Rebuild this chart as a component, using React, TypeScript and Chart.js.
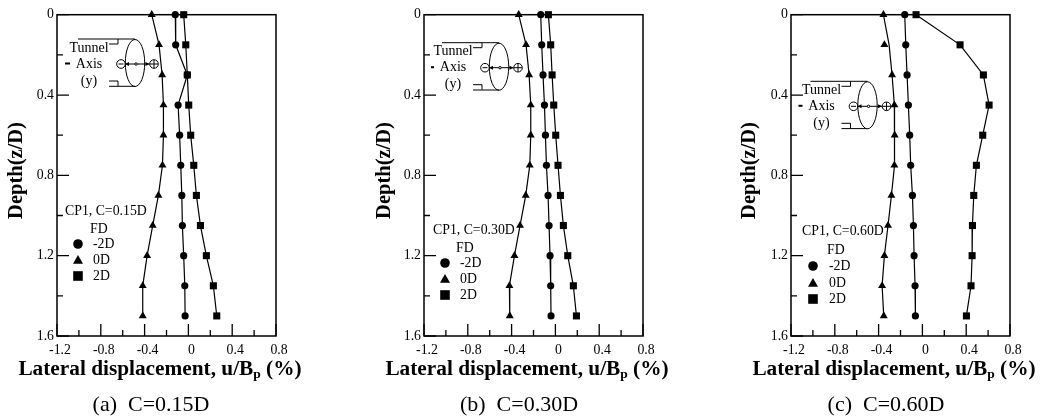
import React, { useEffect, useRef } from "react";
import { Chart, registerables } from "chart.js";

Chart.register(...registerables);

const depths = [0, 0.15, 0.3, 0.45, 0.6, 0.75, 0.9, 1.05, 1.2, 1.35, 1.5];
const xTickLabels = ["-1.2", "-0.8", "-0.4", "0", "0.4", "0.8"];
const yTickLabels = ["0", "0.4", "0.8", "1.2", "1.6"];

const a_m2D = [-0.12, -0.116, -0.01, -0.094, -0.08, -0.07, -0.06, -0.055, -0.043, -0.033, -0.03];
const a_0D = [-0.335, -0.268, -0.24, -0.228, -0.228, -0.237, -0.274, -0.326, -0.377, -0.417, -0.417];
const a_2D = [-0.043, -0.024, -0.01, 0.003, 0.021, 0.049, 0.073, 0.11, 0.164, 0.228, 0.259];

const b_m2D = [-0.134, -0.125, -0.113, -0.1, -0.091, -0.082, -0.067, -0.058, -0.049, -0.043, -0.04];
const b_0D = [-0.335, -0.268, -0.24, -0.225, -0.225, -0.234, -0.271, -0.323, -0.374, -0.42, -0.417];
const b_2D = [-0.064, -0.043, -0.03, -0.015, 0.003, 0.024, 0.046, 0.073, 0.113, 0.164, 0.192];

const c_m2D = [-0.161, -0.152, -0.14, -0.128, -0.116, -0.107, -0.091, -0.082, -0.076, -0.067, -0.064];
const c_0D = [-0.356, -0.304, -0.277, -0.256, -0.253, -0.256, -0.283, -0.314, -0.347, -0.368, -0.353];
const c_0D_offLine = [-0.347];
const c_2D = [-0.058, 0.344, 0.557, 0.609, 0.551, 0.493, 0.469, 0.457, 0.454, 0.444, 0.402];

type Panel = {
  left: number; width: number; axisLeft: number; axisRight: number; yTitleX: number;
  caption: string; captionX: number; xTitleX: number; cp: string;
  cpX: number; cpY: number; fdX: number; fdY: number; markX: number; textX: number; rowY: number[];
  diaDx: number; diaDy: number; dashW: number;
  m2: number[]; z0: number[]; p2: number[]; offLine?: number[]; hideTri?: number;
};

const panels: Panel[] = [
  { left: 0, width: 346, axisLeft: 57, axisRight: 276, yTitleX: 17, caption: "(a)  C=0.15D", captionX: 151, xTitleX: 160,
    cp: "CP1, C=0.15D", cpX: 65, cpY: 211, fdX: 90, fdY: 229, markX: 78, textX: 93, rowY: [244, 260, 276],
    diaDx: 0, diaDy: 0, dashW: 5, m2: a_m2D, z0: a_0D, p2: a_2D },
  { left: 346, width: 347, axisLeft: 78, axisRight: 297, yTitleX: 39, caption: "(b)  C=0.30D", captionX: 173, xTitleX: 181,
    cp: "CP1, C=0.30D", cpX: 87, cpY: 230, fdX: 110, fdY: 248, markX: 99, textX: 114, rowY: [263, 279, 295],
    diaDx: 364, diaDy: 3.7, dashW: 3, m2: b_m2D, z0: b_0D, p2: b_2D },
  { left: 693, width: 347, axisLeft: 98, axisRight: 317, yTitleX: 57, caption: "(c)  C=0.60D", captionX: 193, xTitleX: 201,
    cp: "CP1, C=0.60D", cpX: 109, cpY: 231, fdX: 134, fdY: 250, markX: 120, textX: 136, rowY: [266, 283, 299],
    diaDx: 732.5, diaDy: 42.3, dashW: 4, m2: c_m2D, z0: c_0D, p2: c_2D, offLine: c_0D_offLine, hideTri: 1 },
];

const SERIF = '"Liberation Serif", serif';

function marker(ctx: CanvasRenderingContext2D, kind: number, x: number, y: number) {
  ctx.beginPath();
  if (kind === 0) ctx.arc(x, y, 4.8, 0, Math.PI * 2);
  else if (kind === 1) { ctx.moveTo(x, y - 5); ctx.lineTo(x + 5, y + 3.8); ctx.lineTo(x - 5, y + 3.8); ctx.closePath(); }
  else ctx.rect(x - 4.8, y - 4.8, 9.6, 9.6);
  ctx.fill();
}

function makePlugin(p: Panel) {
  return {
    id: "paperFrame",
    afterDraw(chart: any) {
      const ctx: CanvasRenderingContext2D = chart.ctx;
      const { left, right, top, bottom } = chart.chartArea;
      const xs = chart.scales.x;
      const ys = chart.scales.y;
      ctx.save();
      ctx.strokeStyle = "#000";
      ctx.fillStyle = "#000";
      // frame
      ctx.lineWidth = 1.5;
      ctx.strokeRect(left, top, right - left, bottom - top);
      // inward ticks
      ctx.lineWidth = 1.3;
      ctx.beginPath();
      xs.ticks.forEach((t: any) => {
        const major = Math.round(t.value * 10) % 4 === 0;
        const px = xs.getPixelForValue(t.value);
        ctx.moveTo(px, bottom);
        ctx.lineTo(px, bottom - (major ? 12 : 6));
      });
      ys.ticks.forEach((t: any) => {
        const major = Math.round(t.value * 10) % 4 === 0;
        const py = ys.getPixelForValue(t.value);
        ctx.moveTo(left, py);
        ctx.lineTo(left + (major ? 12 : 6), py);
      });
      ctx.stroke();

      // y axis title
      ctx.save();
      ctx.translate(p.yTitleX, 170.5);
      ctx.rotate(-Math.PI / 2);
      ctx.font = `bold 20.5px ${SERIF}`;
      ctx.textAlign = "center";
      ctx.textBaseline = "middle";
      ctx.fillText("Depth(z/D)", 0, 0);
      ctx.restore();

      // x axis title with a subscript
      ctx.textBaseline = "alphabetic";
      const big = `bold 21.3px ${SERIF}`;
      const sub = `bold 13.5px ${SERIF}`;
      const s1 = "Lateral displacement, u/B";
      const s2 = "p";
      const s3 = " (%)";
      ctx.font = big;
      const w1 = ctx.measureText(s1).width;
      const w3 = ctx.measureText(s3).width;
      ctx.font = sub;
      const w2 = ctx.measureText(s2).width;
      let tx = p.xTitleX - (w1 + w2 + w3) / 2;
      ctx.textAlign = "left";
      ctx.font = big;
      ctx.fillText(s1, tx, 375);
      tx += w1;
      ctx.font = sub;
      ctx.fillText(s2, tx, 378);
      tx += w2;
      ctx.font = big;
      ctx.fillText(s3, tx, 375);

      // caption
      ctx.font = `22px ${SERIF}`;
      ctx.textAlign = "center";
      ctx.fillText(p.caption, p.captionX, 411);

      // legend
      ctx.textBaseline = "middle";
      ctx.textAlign = "left";
      ctx.font = `13.8px ${SERIF}`;
      ctx.fillText(p.cp, p.cpX, p.cpY);
      ctx.fillText("FD", p.fdX, p.fdY);
      ["-2D", "0D", "2D"].forEach((name, i) => {
        marker(ctx, i, p.markX, p.rowY[i]);
        ctx.fillText(name, p.textX, p.rowY[i]);
      });

      // tunnel diagram
      const ox = p.diaDx - p.left;
      const oy = p.diaDy;
      const X = (v: number) => v + ox;
      const Y = (v: number) => v + oy;
      ctx.textAlign = "center";
      ctx.font = `14px ${SERIF}`;
      ctx.fillText("Tunnel", X(89), Y(48));
      ctx.fillText("Axis", X(89), Y(64));
      ctx.fillText("(y)", X(89), Y(81));
      ctx.lineWidth = 1;
      ctx.beginPath();
      ctx.ellipse(X(135), Y(63), 9.7, 23.5, 0, 0, Math.PI * 2);
      ctx.stroke();
      ctx.beginPath();
      ctx.moveTo(X(78), Y(39)); ctx.lineTo(X(135), Y(39));
      ctx.moveTo(X(109), Y(86.3)); ctx.lineTo(X(135), Y(86.3));
      ctx.moveTo(X(109), Y(44)); ctx.lineTo(X(118), Y(44)); ctx.lineTo(X(118), Y(39));
      ctx.moveTo(X(109), Y(81)); ctx.lineTo(X(118), Y(81)); ctx.lineTo(X(118), Y(86));
      ctx.moveTo(X(125), Y(64)); ctx.lineTo(X(149.5), Y(64));
      ctx.stroke();
      for (const cx of [121, 154]) {
        ctx.beginPath();
        ctx.arc(X(cx), Y(64), 4.3, 0, Math.PI * 2);
        ctx.stroke();
      }
      ctx.beginPath();
      ctx.moveTo(X(118.5), Y(64)); ctx.lineTo(X(123.5), Y(64));
      ctx.moveTo(X(154), Y(60)); ctx.lineTo(X(154), Y(68));
      ctx.moveTo(X(150), Y(64)); ctx.lineTo(X(158), Y(64));
      ctx.stroke();
      ctx.beginPath();
      ctx.moveTo(X(125), Y(64)); ctx.lineTo(X(129), Y(62)); ctx.lineTo(X(129), Y(66)); ctx.closePath();
      ctx.moveTo(X(149.5), Y(64)); ctx.lineTo(X(145.5), Y(62)); ctx.lineTo(X(145.5), Y(66)); ctx.closePath();
      ctx.fill();
      ctx.beginPath();
      ctx.arc(X(136), Y(64), 1.2, 0, Math.PI * 2);
      ctx.fillStyle = "#fff";
      ctx.fill();
      ctx.stroke();
      ctx.fillStyle = "#000";
      ctx.fillRect(X(70 - p.dashW), Y(62.5), p.dashW, 2);
      ctx.restore();
    },
  };
}

function series(label: string, xs: number[], pointStyle: string, radius: number, hideIndex?: number) {
  return {
    label,
    data: xs.map((x, i) => ({ x, y: depths[i] })),
    showLine: true,
    borderColor: "#000",
    backgroundColor: "#000",
    borderWidth: 1.2,
    pointStyle,
    pointRadius: xs.map((_, i) => (i === hideIndex ? 0 : radius)),
    pointBorderWidth: 0,
    tension: 0,
    clip: false,
  };
}

function Panel({ p }: { p: Panel }) {
  const ref = useRef<HTMLCanvasElement>(null);
  useEffect(() => {
    const pad = p.yTitleX - 12;
    const datasets: any[] = [
      series("-2D", p.m2, "circle", 3.6),
      series("0D", p.z0, "triangle", 4.6, p.hideTri),
      series("2D", p.p2, "rect", 5),
    ];
    if (p.offLine) {
      datasets.push({
        label: "0D ",
        data: p.offLine.map((x) => ({ x, y: depths[p.hideTri as number] })),
        showLine: false,
        backgroundColor: "#000",
        pointStyle: "triangle",
        pointRadius: 4.6,
        pointBorderWidth: 0,
      });
    }
    const chart = new Chart(ref.current as HTMLCanvasElement, {
      type: "scatter",
      data: { datasets },
      plugins: [makePlugin(p)],
      options: {
        animation: false,
        responsive: false,
        layout: { padding: { left: pad, right: p.width - p.axisRight, top: 14.7, bottom: 0 } },
        plugins: { legend: { display: false }, tooltip: { enabled: false } },
        scales: {
          x: {
            type: "linear",
            min: -1.2,
            max: 0.8,
            afterFit: (s: any) => { s.height = 81; },
            grid: { display: false, drawTicks: false },
            border: { display: false },
            ticks: {
              stepSize: 0.2,
              autoSkip: false,
              maxRotation: 0,
              padding: 6,
              labelOffset: 3,
              color: "#000",
              font: { family: SERIF, size: 13.8 },
              callback: (v: any) => xTickLabels.find((l) => Math.abs(parseFloat(l) - v) < 1e-6) ?? "",
            },
          },
          y: {
            type: "linear",
            reverse: true,
            min: 0,
            max: 1.6,
            afterFit: (s: any) => { s.width = p.axisLeft - pad; },
            grid: { display: false, drawTicks: false },
            border: { display: false },
            ticks: {
              stepSize: 0.2,
              autoSkip: false,
              padding: 3,
              color: "#000",
              font: { family: SERIF, size: 13.8 },
              callback: (v: any) => yTickLabels.find((l) => Math.abs(parseFloat(l) - v) < 1e-6) ?? "",
            },
          },
        },
      },
    } as any);
    return () => chart.destroy();
  }, [p]);
  return (
    <canvas
      ref={ref}
      width={p.width}
      height={417}
      style={{ position: "absolute", left: p.left, top: 0, width: p.width, height: 417, display: "block" }}
    />
  );
}

export default function App() {
  return (
    <div style={{ position: "fixed", left: 0, top: 0, width: 1040, height: 417, background: "#fff", overflow: "hidden" }}>
      {panels.map((p) => (
        <Panel key={p.caption} p={p} />
      ))}
    </div>
  );
}
